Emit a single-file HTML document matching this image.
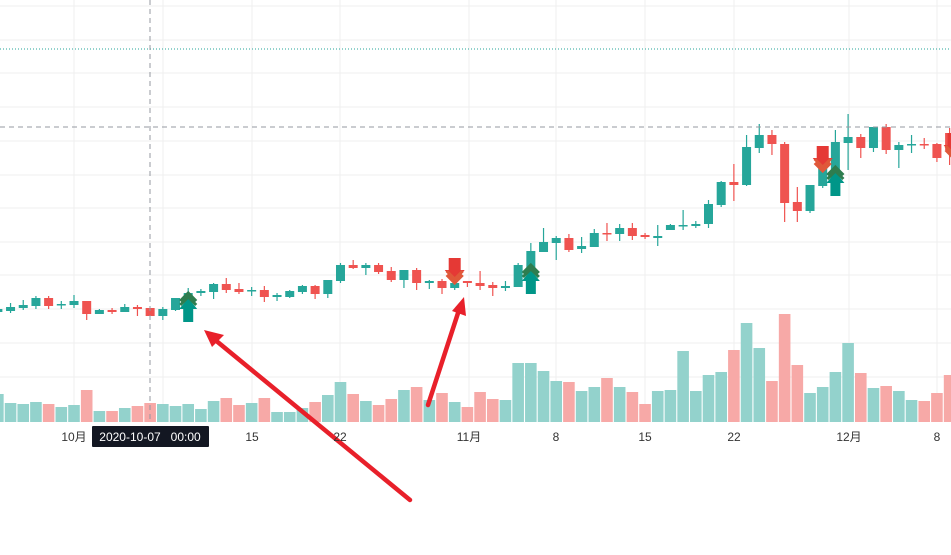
<!DOCTYPE html>
<html><head><meta charset="utf-8"><style>
html,body{margin:0;padding:0;background:#fff;width:951px;height:555px;overflow:hidden}
svg{display:block}
text{font-family:"Liberation Sans","Noto Sans CJK SC",sans-serif;font-size:12px;fill:#333}
</style></head><body>
<svg id="s" width="951" height="555" xmlns="http://www.w3.org/2000/svg"></svg>
<script>
var s=document.getElementById('s'),h='';
var G='#26a69a',R='#ef5350',x0=74,sp=12.69;
function X(i){return x0+i*sp}
[6,40,73,107,141,175,208,242,275,309,343,377].forEach(function(y){h+='<line x1="0" x2="951" y1="'+y+'" y2="'+y+'" stroke="#efefef" stroke-width="1"/>';});
[74,163,252,340,469,556,645,734,849,937].forEach(function(x){h+='<line y1="0" y2="422" x1="'+x+'" x2="'+x+'" stroke="#efefef" stroke-width="1"/>';});
var vol=[[394,'g'],[403,'g'],[404,'g'],[402,'g'],[404,'r'],[407,'g'],[405,'g'],[390,'r'],[411,'g'],[411,'r'],[408,'g'],[406,'r'],[403,'r'],[404,'g'],[406,'g'],[404,'g'],[409,'g'],[401,'g'],[398,'r'],[405,'r'],[403,'g'],[398,'r'],[412,'g'],[412,'g'],[408,'g'],[402,'r'],
[395,'g'],[382,'g'],[394,'r'],[401,'g'],[405,'r'],[399,'r'],[390,'g'],[387,'r'],[400,'g'],[393,'r'],[402,'g'],[407,'r'],[392,'r'],[399,'r'],[400,'g'],[363,'g'],[363,'g'],[371,'g'],[381,'g'],[382,'r'],[391,'g'],[387,'g'],[378,'r'],[387,'g'],[392,'r'],[404,'r'],[391,'g'],[390,'g'],[351,'g'],[391,'g'],[375,'g'],[372,'g'],[350,'r'],[323,'g'],[348,'g'],[381,'r'],[314,'r'],[365,'r'],[393,'g'],[387,'g'],[372,'g'],[343,'g'],[373,'r'],[388,'g'],[386,'r'],[391,'g'],[400,'g'],[401,'r'],[393,'r'],[375,'r']];
vol.forEach(function(v,k){var i=k-6,x=X(i);h+='<rect x="'+(x-5.8)+'" y="'+v[0]+'" width="11.6" height="'+(422-v[0])+'" fill="'+(v[1]=='g'?'#93d2cc':'#f7a9a7')+'"/>';});
var c=[[309,312,306,314,'g'],[307,311,303,313,'g'],[305,308,300,310,'g'],[298,306,296,309,'g'],[298,306,296,309,'r'],[304,305,301,309,'g'],[301,305,295,308,'g'],[301,314,301,320,'r'],[310,314,309,314,'g'],[310,312,308,314,'r'],[307,312,304,312,'g'],[307,309,305,316,'r'],[308,316,308,316,'r'],[309,316,307,320,'g'],[298,310,298,311,'g'],[293,300,288,300,'g'],[291,293,289,296,'g'],[284,292,283,299,'g'],[284,290,278,293,'r'],[289,292,283,294,'r'],[290,291,287,296,'g'],[290,297,286,302,'r'],[295,297,293,301,'g'],[291,297,290,298,'g'],[286,292,285,294,'g'],[286,294,285,299,'r'],
[280,294,280,298,'g'],[265,281,263,283,'g'],[265,268,260,269,'r'],[265,268,263,275,'g'],[265,272,263,274,'r'],[271,280,267,282,'r'],[270,280,270,288,'g'],[270,283,268,290,'r'],[281,283,280,289,'g'],[281,288,279,294,'r'],[283,288,283,290,'g'],[281,283,281,287,'r'],[283,286,271,290,'r'],[285,288,282,296,'r'],[286,288,281,291,'g'],[265,287,263,287,'g'],[251,270,243,272,'g'],[242,252,228,252,'g'],[238,243,236,260,'g'],[238,250,234,252,'r'],[246,249,237,253,'g'],[233,247,229,247,'g'],[233,234,223,241,'r'],[228,234,224,241,'g'],[228,236,223,240,'r'],[235,237,233,239,'r'],[236,238,225,246,'g'],[225,230,224,230,'g'],[225,226,210,230,'g'],[224,226,221,228,'g'],[204,224,200,228,'g'],[182,205,181,207,'g'],[182,185,164,201,'r'],[147,185,135,186,'g'],[135,148,124,153,'g'],[135,144,130,155,'r'],[144,203,142,222,'r'],[202,211,187,222,'r'],[185,211,185,213,'g'],[150,186,146,188,'g'],[142,186,130,186,'g'],[137,143,114,170,'g'],[137,148,134,158,'r'],[127,148,127,152,'g'],[127,150,124,154,'r'],[145,150,142,168,'g'],[144,145,135,153,'g'],[144,145,138,149,'r'],[144,158,143,162,'r'],[133,150,128,165,'r']];
c.forEach(function(v,k){var i=k-6,x=X(i),col=v[4]=='g'?G:R;
h+='<line x1="'+x+'" x2="'+x+'" y1="'+v[2]+'" y2="'+v[3]+'" stroke="'+col+'" stroke-width="1.2"/>';
h+='<rect x="'+(x-4.5)+'" y="'+v[0]+'" width="9" height="'+Math.max(1.5,v[1]-v[0])+'" fill="'+col+'"/>';});
h+='<line x1="0" x2="951" y1="49" y2="49" stroke="#26a69a" stroke-width="1" stroke-dasharray="1,2"/>';
h+='<line x1="0" x2="951" y1="127" y2="127" stroke="#9598a1" stroke-width="1" stroke-dasharray="5,4"/>';
h+='<line x1="150" x2="150" y1="0" y2="422" stroke="#9598a1" stroke-width="1" stroke-dasharray="5,4"/>';
function up(x,y){
 h+='<path d="M'+x+' '+(y+5)+'L'+(x+9)+' '+(y+16)+'L'+(x+5)+' '+(y+16)+'L'+(x+5)+' '+(y+29)+'L'+(x-5)+' '+(y+29)+'L'+(x-5)+' '+(y+16)+'L'+(x-9)+' '+(y+16)+'Z" fill="#009688"/>';
 h+='<path d="M'+(x-8)+' '+(y+8)+'L'+x+' '+y+'L'+(x+8)+' '+(y+8)+'M'+(x-8)+' '+(y+12)+'L'+x+' '+(y+4)+'L'+(x+8)+' '+(y+12)+'" stroke="#2e7d4f" stroke-width="3" fill="none"/>';}
function dn(x,y){
 h+='<path d="M'+(x-6)+' '+y+'L'+(x+6)+' '+y+'L'+(x+6)+' '+(y+12)+'L'+(x+10)+' '+(y+12)+'L'+x+' '+(y+24)+'L'+(x-10)+' '+(y+12)+'L'+(x-6)+' '+(y+12)+'Z" fill="#e53935"/>';
 h+='<path d="M'+(x-8)+' '+(y+13)+'L'+x+' '+(y+21)+'L'+(x+8)+' '+(y+13)+'M'+(x-8)+' '+(y+17)+'L'+x+' '+(y+25)+'L'+(x+8)+' '+(y+17)+'" stroke="#e0583a" stroke-width="3" fill="none"/>';}
up(X(9),293);dn(X(30),258);up(X(36),265);dn(X(59),146);up(X(60),167);dn(X(69)+4,133);
h+='<line x1="410" y1="500" x2="214" y2="339" stroke="#e8202a" stroke-width="4.5" stroke-linecap="round"/>';
h+='<path d="M204 330 L224 335 L212 347 Z" fill="#e8202a"/>';
h+='<line x1="428" y1="405" x2="459" y2="310" stroke="#e8202a" stroke-width="4.5" stroke-linecap="round"/>';
h+='<path d="M464 297 L466 316 L452 311 Z" fill="#e8202a"/>';
[[74,'10月'],[252,'15'],[340,'22'],[469,'11月'],[556,'8'],[645,'15'],[734,'22'],[849,'12月'],[937,'8']].forEach(function(l){h+='<text x="'+l[0]+'" y="441" text-anchor="middle">'+l[1]+'</text>';});
h+='<rect x="92" y="426" width="117" height="21" rx="1" fill="#131722"/>';
h+='<text x="150" y="441" text-anchor="middle" style="fill:#fff">2020-10-07&#160;&#160;&#160;00:00</text>';
s.innerHTML=h;
</script>
</body></html>
